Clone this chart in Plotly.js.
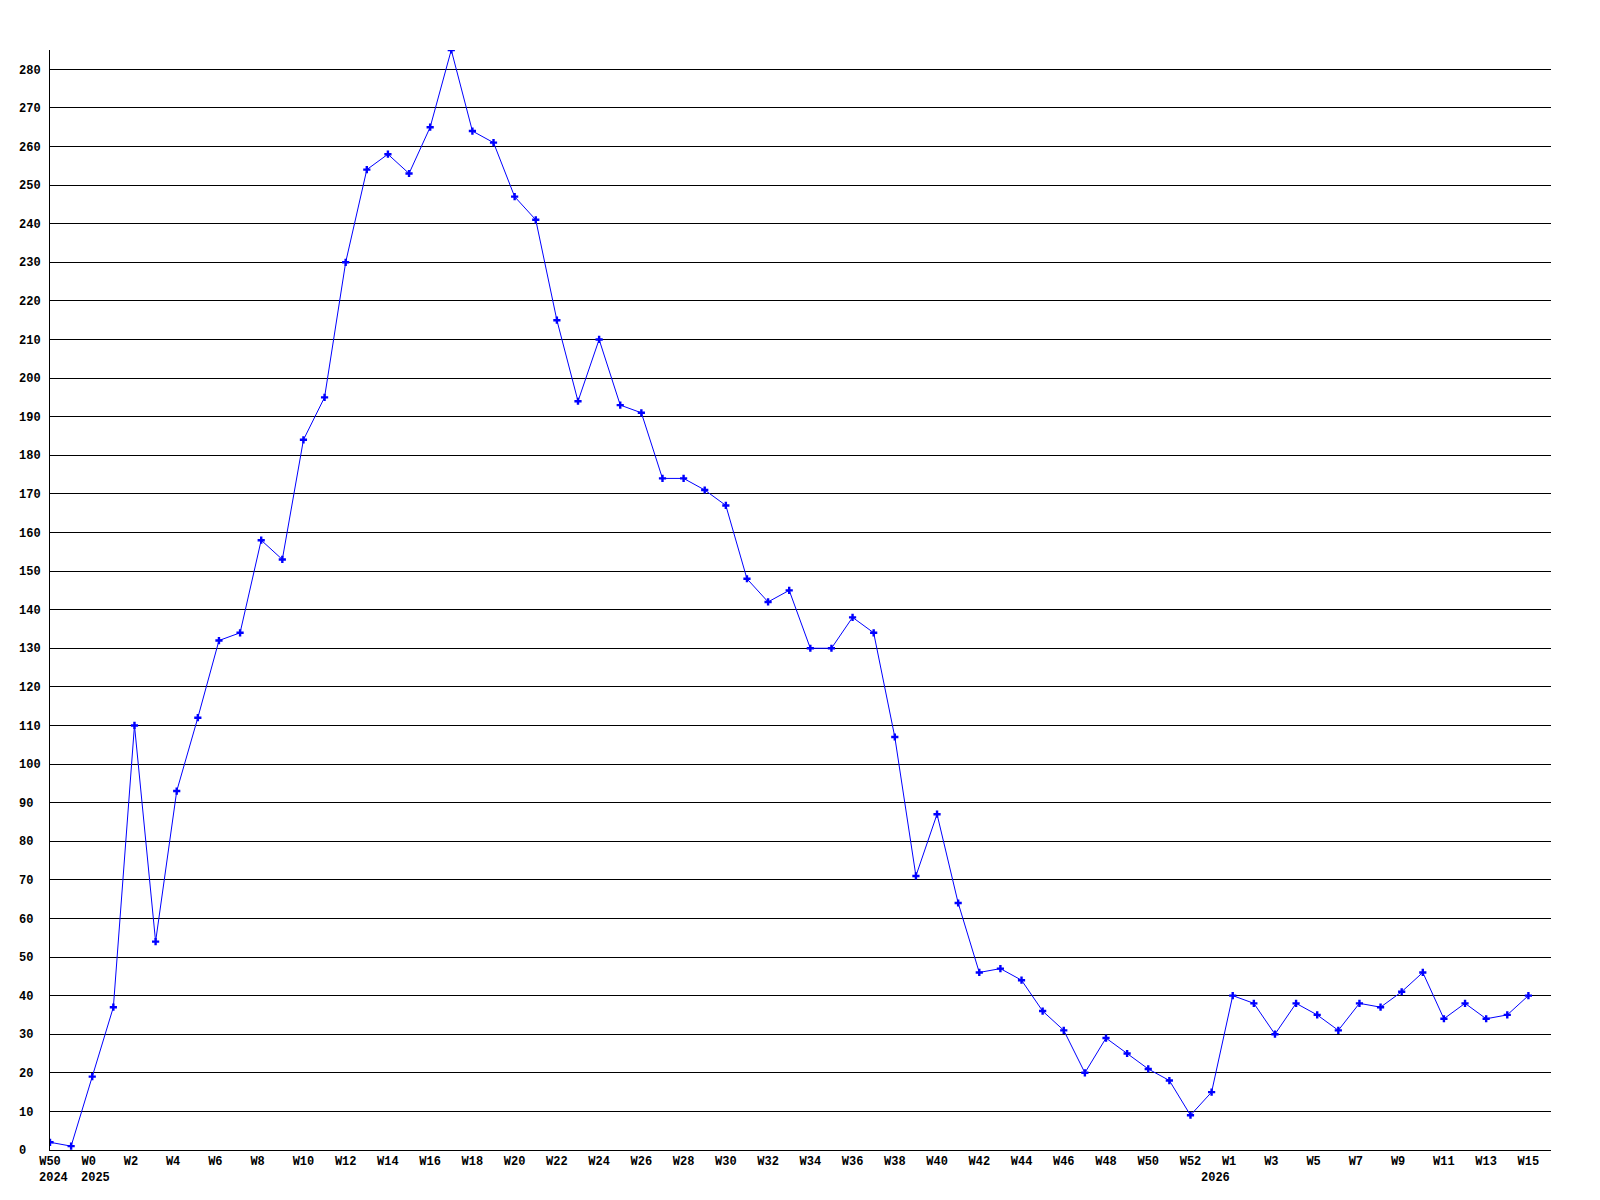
<!DOCTYPE html>
<html>
<head>
<meta charset="utf-8">
<script src="https://cdn.plot.ly/plotly-3.0.1.min.js"></script>
<style>
html,body{margin:0;padding:0;background:#fff;}
#chart{width:1600px;height:1200px;}
</style>
</head>
<body>
<div id="chart"></div>
<script>
// Week labels for each data point (2 weeks of 2024, 53 of 2025, 16 of 2026)
const weeks = [
  "W50","W51",
  "W0","W1","W2","W3","W4","W5","W6","W7","W8","W9","W10","W11","W12","W13","W14","W15","W16","W17","W18","W19",
  "W20","W21","W22","W23","W24","W25","W26","W27","W28","W29","W30","W31","W32","W33","W34","W35","W36","W37",
  "W38","W39","W40","W41","W42","W43","W44","W45","W46","W47","W48","W49","W50","W51","W52",
  "W0","W1","W2","W3","W4","W5","W6","W7","W8","W9","W10","W11","W12","W13","W14","W15"
];
const values = [
  2,1,
  19,37,110,54,93,112,132,134,158,153,184,195,230,254,258,253,265,285,264,261,
  247,241,215,194,210,193,191,174,174,171,167,148,142,145,130,130,138,134,
  107,71,87,64,46,47,44,36,31,20,29,25,21,18,9,
  15,40,38,30,38,35,31,38,37,41,46,34,38,34,35,40
];
// Year labels and the index of the first point of each year
const years = ["2024","2025","2026"];
const yearStart = [0,2,55];
const yTicks = [0,10,20,30,40,50,60,70,80,90,100,110,120,130,140,150,160,170,180,190,200,210,220,230,240,250,260,270,280];

const idx = values.map((v,i)=>i);
const NB = "\u00a0";
const pad3 = s => s + NB.repeat(Math.max(0,3-s.length));

const tickvals = idx.filter(i=>i%2===0);
const ticktext = tickvals.map(i=>pad3(weeks[i]));
const yTickText = yTicks.map(v=>pad3(String(v)));

const FONT = {family:"'Liberation Mono', 'DejaVu Sans Mono', monospace", size:12, color:"#000", weight:"bold"};

const trace = {
  x: idx, y: values, type:"scatter", mode:"lines+markers",
  line:{color:"#0000ff", width:1},
  marker:{color:"#0000ff", symbol:"cross", size:6, line:{width:0}},
  hoverinfo:"skip"
};

const annotations = years.map((y,k)=>({
  x: yearStart[k], xref:"x", y:0, yref:"paper",
  yanchor:"top", xanchor:"left", xshift:-13, yshift:-19,
  text: y, showarrow:false, font:FONT
}));

const layout = {
  width:1600, height:1200,
  margin:{l:50, r:49, t:50, b:50},
  paper_bgcolor:"#fff", plot_bgcolor:"#fff",
  showlegend:false,
  font: FONT,
  xaxis:{
    range:[0,71.07], tickvals:tickvals, ticktext:ticktext,
    showgrid:false, zeroline:false, showline:true, linecolor:"#000", linewidth:1,
    ticks:"", tickfont:FONT, ticklabelstandoff:0, fixedrange:true
  },
  yaxis:{
    range:[0,285], tickvals:yTicks, ticktext:yTickText,
    showgrid:true, gridcolor:"#000", gridwidth:1,
    zeroline:false, showline:true, linecolor:"#000", linewidth:1,
    ticks:"", tickfont:FONT, ticklabelstandoff:6, fixedrange:true
  },
  annotations: annotations
};

Plotly.newPlot("chart",[trace],layout,{staticPlot:true, displayModeBar:false});
</script>
</body>
</html>
